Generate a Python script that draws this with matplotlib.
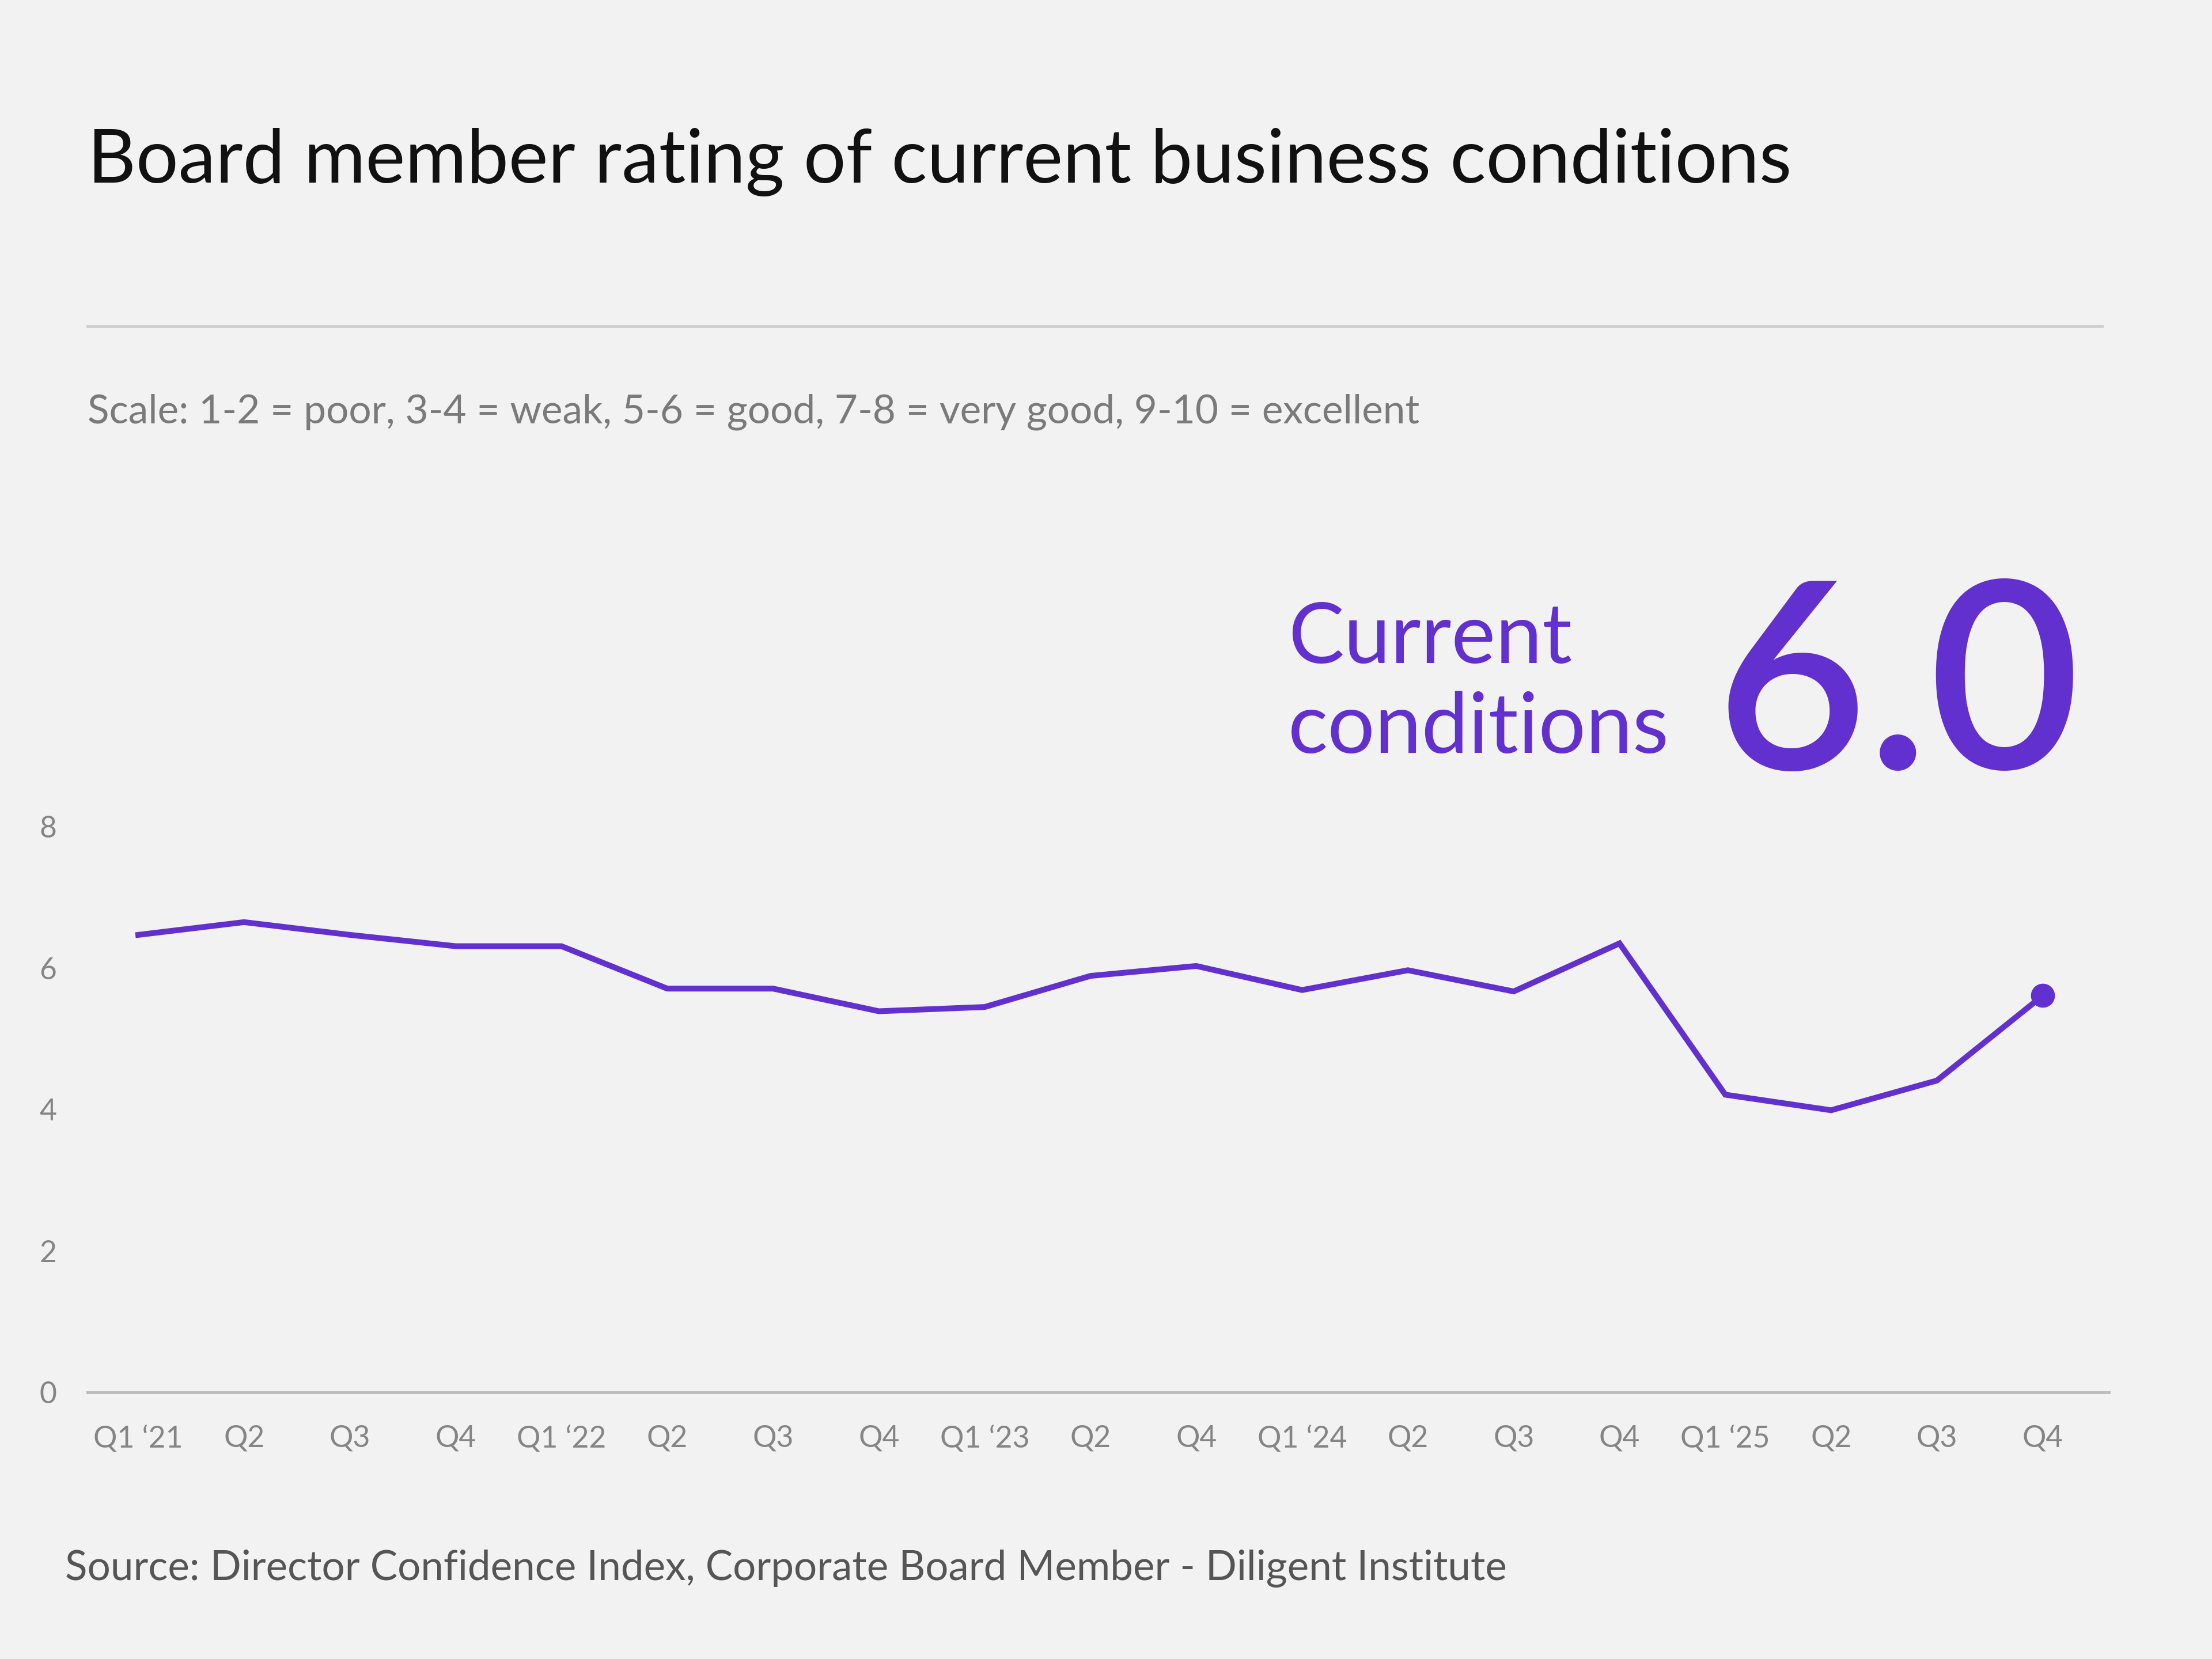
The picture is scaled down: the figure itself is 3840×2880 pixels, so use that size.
import matplotlib
matplotlib.use("Agg")
import matplotlib.pyplot as plt
from matplotlib.lines import Line2D

# quarters and ratings
quarters = ["Q1 \u201821", "Q2", "Q3", "Q4", "Q1 \u201822", "Q2", "Q3", "Q4",
            "Q1 \u201823", "Q2", "Q4", "Q1 \u201824", "Q2", "Q3", "Q4",
            "Q1 \u201825", "Q2", "Q3", "Q4"]
ratings = [6.47, 6.65, 6.47, 6.31, 6.31, 5.71, 5.71, 5.39, 5.45, 5.89,
           6.03, 5.69, 5.97, 5.67, 6.35, 4.21, 3.99, 4.41, 5.61]
yticks = [0, 2, 4, 6, 8]
current_value = "6.0"

purple = "#6130CF"
bg = "#F2F2F2"
grey = "#858585"

plt.rcParams['font.family'] = ['Lato', 'DejaVu Sans']

W, H = 1568, 1176  # layout measured on a 1568x1176 view
fig = plt.figure(figsize=(16, 12), dpi=240, facecolor=bg)

def fx(x):
    return x / W

def fy(y):
    return 1 - y / H

ax = fig.add_axes([fx(62), fy(987), fx(1495) - fx(62), fy(586) - fy(987)])
ax.set_facecolor(bg)
xs = list(range(len(ratings)))
ax.plot(xs, ratings, color=purple, lw=3.0, solid_joinstyle='miter')
ax.plot(xs[-1], ratings[-1], 'o', color=purple, ms=11.5)

ax.set_ylim(0, 8)
ax.set_xlim((62 - 98) / 75, (1495 - 98) / 75)
ax.set_yticks(yticks)
ax.set_xticks(xs)
ax.set_xticklabels(quarters)
ax.tick_params(axis='both', length=0, labelsize=15.5, labelcolor=grey)
ax.tick_params(axis='y', pad=16)
ax.tick_params(axis='x', pad=17)
for s in ['top', 'right', 'left']:
    ax.spines[s].set_visible(False)
ax.spines['bottom'].set_color("#BDBDBD")
ax.spines['bottom'].set_linewidth(1.5)

fig.text(fx(62), fy(115), "Board member rating of current business conditions",
         fontsize=39, color="#111111", va='center', ha='left')
fig.add_artist(Line2D([fx(62), fx(1490)], [fy(231), fy(231)],
                      color="#CFCFCF", lw=1.5, transform=fig.transFigure))
fig.text(fx(62), fy(292), "Scale: 1-2 = poor, 3-4 = weak, 5-6 = good, 7-8 = very good, 9-10 = excellent",
         fontsize=20.8, color="#7A7A7A", va='center', ha='left')

fig.text(fx(913), fy(453), "Current", fontsize=43.5, color=purple, va='center', ha='left')
fig.text(fx(913), fy(517), "conditions", fontsize=43.5, color=purple, va='center', ha='left')
fig.text(fx(1475), fy(545), current_value, fontsize=136, color=purple,
         va='baseline', ha='right', fontweight='semibold')

fig.text(fx(46), fy(1112), "Source: Director Confidence Index, Corporate Board Member - Diligent Institute",
         fontsize=21.3, color="#555555", va='center', ha='left')

fig.savefig("out.png", dpi=240, facecolor=bg)
